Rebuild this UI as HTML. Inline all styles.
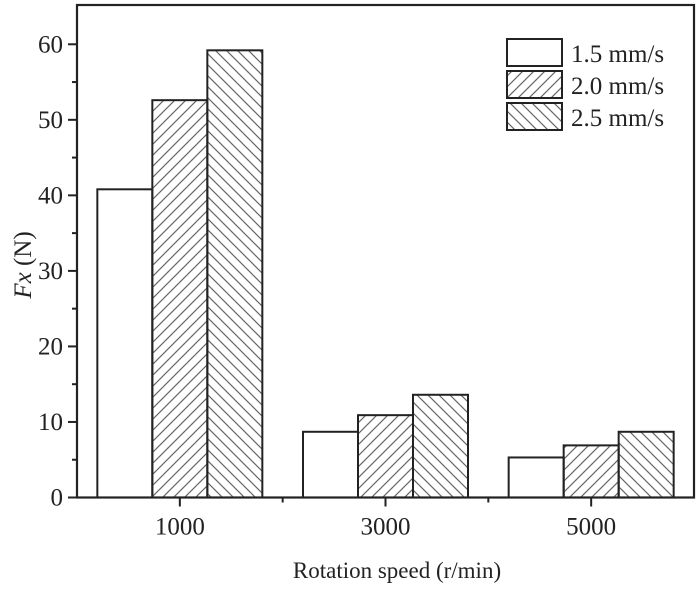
<!DOCTYPE html>
<html><head><meta charset="utf-8"><style>
html,body{margin:0;padding:0;background:#fff;}
svg{display:block;font-family:"Liberation Serif",serif;}
</style></head><body>
<svg id="chart" width="700" height="589" viewBox="0 0 700 589">
<defs>
<pattern id="hatchF" patternUnits="userSpaceOnUse" width="11" height="11"><path d="M-1,12 L12,-1 M-6,6 L6,-6 M5,17 L17,5" stroke="#666" stroke-width="1.2"/></pattern>
<pattern id="hatchB" patternUnits="userSpaceOnUse" width="11" height="11"><path d="M-1,-1 L12,12 M-6,5 L6,17 M5,-6 L17,6" stroke="#666" stroke-width="1.2"/></pattern>
</defs>
<g id="marks"></g>
</svg>
<script>
const categories = ["1000", "3000", "5000"];
const seriesNames = ["1.5 mm/s", "2.0 mm/s", "2.5 mm/s"];
const s15 = [40.8, 8.7, 5.3];
const s20 = [52.6, 10.9, 6.9];
const s25 = [59.2, 13.6, 8.7];
const yTicks = [0, 10, 20, 30, 40, 50, 60];

const NS = "http://www.w3.org/2000/svg";
const g = document.getElementById("marks");
const L = 77, R = 694, T = 5, B = 497.5;
const yMax = 65.2;
function y(v){ return B - v / yMax * (B - T); }
const band = (R - L) / categories.length;
function xc(i){ return L + band * (i + 0.5); }
const bw = 55;
const fills = ["#fff", "url(#hatchF)", "url(#hatchB)"];
const series = [s15, s20, s25];
function mk(tag, attrs){ const e = document.createElementNS(NS, tag); for (const k in attrs) e.setAttribute(k, attrs[k]); return e; }

series.forEach((s, si) => {
  s.forEach((v, i) => {
    const x0 = xc(i) + (si - 1.5) * bw;
    const r = mk("rect", {x: x0, y: y(v), width: bw, height: B - y(v), fill: fills[si], stroke: "#222", "stroke-width": 2});
    
    
    g.appendChild(r);
  });
});

const frame = mk("rect", {x: L, y: T, width: R - L, height: B - T, fill: "none", stroke: "#222", "stroke-width": 2.2});


g.appendChild(frame);

yTicks.forEach(t => {
  const ln = mk("line", {x1: L - 9, x2: L, y1: y(t), y2: y(t), stroke: "#222", "stroke-width": 2});
  
  
  g.appendChild(ln);
  if (t < 60) {
    const m = mk("line", {x1: L - 5, x2: L, y1: y(t + 5), y2: y(t + 5), stroke: "#222", "stroke-width": 2});
    
    
    g.appendChild(m);
  }
  const tx = mk("text", {x: L - 14, y: y(t) + 8, "text-anchor": "end", "font-size": 25, fill: "#222"});
  tx.textContent = t;
  
  
  g.appendChild(tx);
});

categories.forEach((c, i) => {
  const ln = mk("line", {x1: xc(i), x2: xc(i), y1: B, y2: B + 9, stroke: "#222", "stroke-width": 2});
  
  
  g.appendChild(ln);
  if (i > 0) {
    const m = mk("line", {x1: L + band * i, x2: L + band * i, y1: B, y2: B + 5, stroke: "#222", "stroke-width": 2});
    
    
    g.appendChild(m);
  }
  const tx = mk("text", {x: xc(i), y: B + 37, "text-anchor": "middle", "font-size": 25, fill: "#222"});
  tx.textContent = c;
  
  
  g.appendChild(tx);
});

const ly = [39, 71, 103];
seriesNames.forEach((n, si) => {
  const r = mk("rect", {x: 507, y: ly[si], width: 55, height: 27, fill: fills[si], stroke: "#222", "stroke-width": 2});
  
  
  g.appendChild(r);
  const tx = mk("text", {x: 571, y: ly[si] + 23, "font-size": 25, fill: "#222"});
  tx.textContent = n;
  
  
  g.appendChild(tx);
});

const xt = mk("text", {x: 397, y: 578, "text-anchor": "middle", "font-size": 23, fill: "#222"});
xt.setAttribute("xml:space", "preserve");
xt.textContent = "Rotation speed  (r/min)";


g.appendChild(xt);
const yt = mk("text", {x: 0, y: 0, "text-anchor": "middle", "font-size": 25, fill: "#222", transform: "translate(31,265) rotate(-90)"});
yt.innerHTML = '<tspan font-style="italic">Fx</tspan>  (N)';


g.appendChild(yt);
</script>
</body></html>
